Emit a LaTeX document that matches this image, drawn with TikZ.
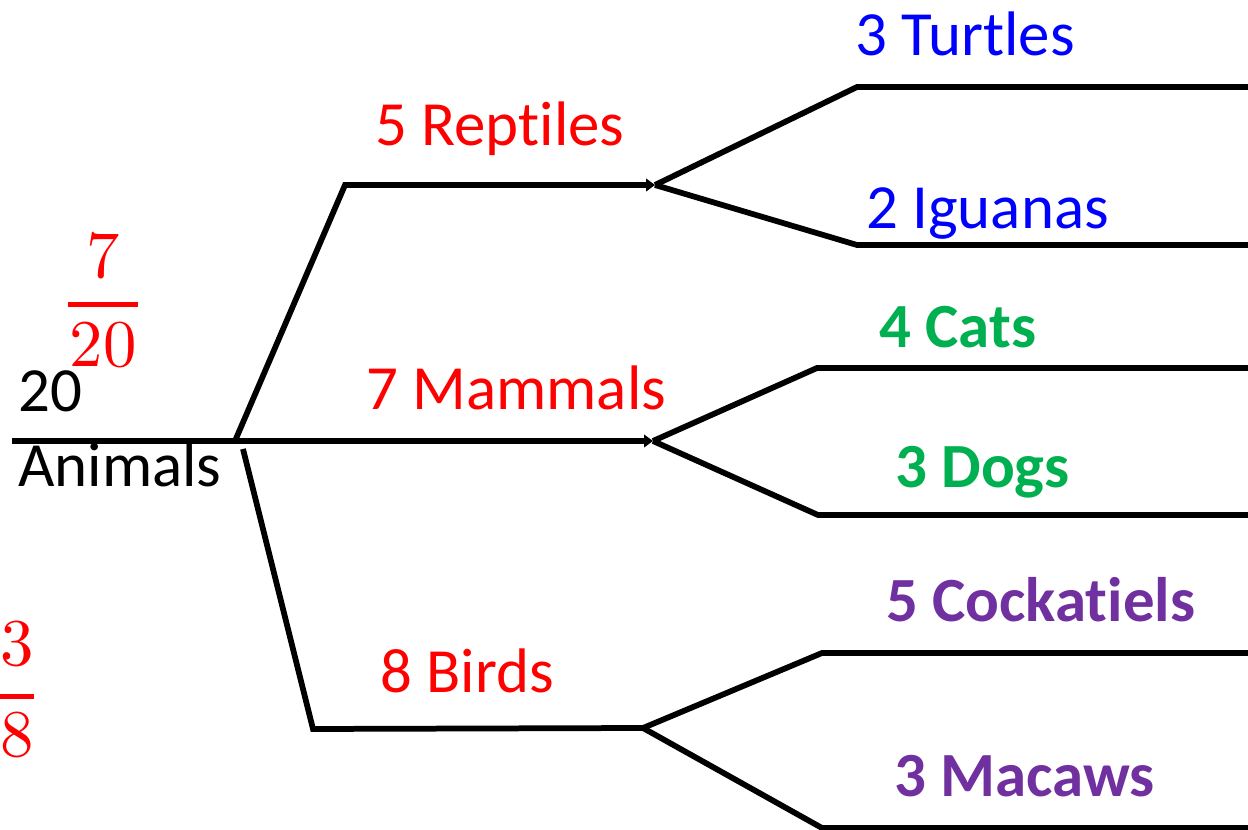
\documentclass[tikz,border=0pt]{standalone}
\usepackage{fontspec}
\newfontfamily\calibri[Ligatures=NoCommon]{Carlito}
\newfontfamily\fracfont{lmroman10-regular.otf}
\usetikzlibrary{arrows.meta}
\definecolor{cred}{HTML}{FF0000}
\definecolor{cblue}{HTML}{0000FF}
\definecolor{cgreen}{HTML}{00B050}
\definecolor{cpurple}{HTML}{7030A0}
\begin{document}
\begin{tikzpicture}[x=0.02cm,y=-0.02cm,
  branch/.style={line width=0.115cm, black, line join=miter},
  tip/.style={-{Triangle[length=5pt,width=7pt]}},
  lbl/.style={anchor=base west, inner sep=0pt, font=\calibri\fontsize{35.8}{40}\selectfont},
  blbl/.style={lbl, font=\calibri\bfseries\fontsize{35.8}{40}\selectfont},
  frac/.style={inner sep=0pt, text=cred, font=\fracfont\fontsize{38}{40}\selectfont},
  fracbar/.style={line width=0.1cm, cred}]
\useasboundingbox (0,0) rectangle (1248,830);

% junction points of the tree
\coordinate (start) at (12,441);
\coordinate (root) at (235,441);
\coordinate (repUp) at (345,185);
\coordinate (repEnd) at (655,185);
\coordinate (lowStart) at (243,449);
\coordinate (birdLow) at (313,729);
\coordinate (birdEnd) at (643,728);
\coordinate (mamEnd) at (653,441);

\coordinate (turA) at (857,87);   \coordinate (turB) at (1250,87);
\coordinate (iguA) at (857,245);  \coordinate (iguB) at (1250,245);
\coordinate (catA) at (817,368);  \coordinate (catB) at (1250,368);
\coordinate (dogA) at (818,515);  \coordinate (dogB) at (1250,515);
\coordinate (cocA) at (822,653);  \coordinate (cocB) at (1250,653);
\coordinate (macA) at (822,828);  \coordinate (macB) at (1250,828);

% first level
\draw[branch, tip] (start) -- (mamEnd);
\draw[branch, tip] (root) -- (repUp) -- (repEnd);
\draw[branch] (lowStart) -- (birdLow) -- (birdEnd);

% second level
\draw[branch] (repEnd) -- (turA) -- (turB);
\draw[branch] (repEnd) -- (iguA) -- (iguB);
\draw[branch] (mamEnd) -- (catA) -- (catB);
\draw[branch] (mamEnd) -- (dogA) -- (dogB);
\draw[branch] (birdEnd) -- (cocA) -- (cocB);
\draw[branch] (birdEnd) -- (macA) -- (macB);

% labels
\node[lbl] (n20) at (18,412) {20};
\node[lbl] (animals) at (18,487) {Animals};
\node[lbl, text=cred] (reptiles) at (375,146) {5 Reptiles};
\node[lbl, text=cred] (mammals) at (366,410) {7 Mammals};
\node[lbl, text=cred] (birds) at (380,693) {8 Birds};
\node[lbl, text=cblue] (turtles) at (855,56) {3 Turtles};
\node[lbl, text=cblue] (iguanas) at (866,229) {2 Iguanas};
\node[blbl, text=cgreen] (cats) at (879,348) {4 Cats};
\node[blbl, text=cgreen] (dogs) at (895,488) {3 Dogs};
\node[blbl, text=cpurple] (cockatiels) at (886,622) {5 Cockatiels};
\node[blbl, text=cpurple] (macaws) at (894,797) {3 Macaws};

% fractions
\node[frac] (sevenNum) at (103,256) {7};
\node[frac] (sevenDen) at (103,345) {20};
\draw[fracbar] (68,305) -- (138,305);
\node[frac] (threeNum) at (17,644) {3};
\node[frac] (threeDen) at (17,735) {8};
\draw[fracbar] (0,697) -- (34,697);
\end{tikzpicture}
\end{document}
